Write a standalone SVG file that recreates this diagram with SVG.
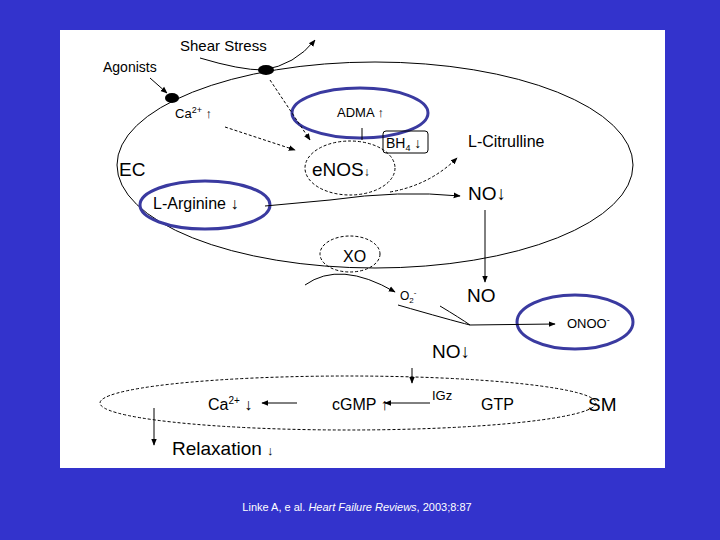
<svg xmlns="http://www.w3.org/2000/svg" width="720" height="540" viewBox="0 0 720 540">
<style>
text{font-family:"Liberation Sans",Arial,sans-serif;fill:#000}
.l{fill:none;stroke:#000;stroke-width:1}
.d{fill:none;stroke:#000;stroke-width:1;stroke-dasharray:3,2}
.b{fill:none;stroke:#3a3aa0;stroke-width:3}
</style>
<defs><marker id="a" viewBox="0 0 10 10" refX="9" refY="5" markerWidth="7" markerHeight="7" orient="auto"><path d="M0,1L10,5L0,9z" fill="#000"/></marker></defs>
<rect width="720" height="540" fill="#3333cc"/>
<rect x="60" y="30" width="605" height="438" fill="#fff"/>
<g id="ec"><ellipse cx="375" cy="165" rx="258" ry="103" class="l"/><text x="119" y="176" font-size="19">EC</text></g>
<g id="sm"><ellipse cx="348" cy="403" rx="248" ry="27" class="d"/><text x="588" y="411" font-size="19">SM</text></g>
<g id="shear"><text x="180" y="51" font-size="15">Shear Stress</text><ellipse cx="266" cy="70" rx="8" ry="5"/></g>
<g id="agonists"><text x="103" y="72" font-size="14">Agonists</text><ellipse cx="172" cy="98" rx="7" ry="5"/></g>
<g id="ca1"><text x="175" y="118" font-size="13">Ca<tspan font-size="9" dy="-5">2+</tspan><tspan dy="5"> ↑</tspan></text></g>
<g id="adma"><ellipse cx="360" cy="113" rx="68" ry="25" class="b"/><text x="337" y="117" font-size="13">ADMA ↑</text></g>
<g id="bh4"><rect x="383" y="131" width="45" height="22" rx="3" class="l"/><text x="386" y="148" font-size="14">BH<tspan font-size="9" dy="3">4</tspan><tspan dy="-3"> ↓</tspan></text></g>
<g id="enos"><ellipse cx="350" cy="168" rx="45" ry="27" class="d"/><text x="312" y="176" font-size="19">eNOS<tspan font-size="12">↓</tspan></text></g>
<g id="citrulline"><text x="468" y="147" font-size="16">L-Citrulline</text></g>
<g id="no1"><text x="468" y="200" font-size="19">NO↓</text></g>
<g id="arginine"><ellipse cx="205" cy="205" rx="65" ry="24" class="b"/><text x="153" y="209" font-size="16">L-Arginine ↓</text></g>
<g id="xo"><ellipse cx="350" cy="254" rx="30" ry="18" class="d"/><text x="343" y="262" font-size="16">XO</text></g>
<g id="o2"><text x="400" y="300" font-size="12">O<tspan font-size="8" dy="3">2</tspan><tspan font-size="8" dy="-8">-</tspan></text></g>
<g id="no2"><text x="467" y="302" font-size="19">NO</text></g>
<g id="onoo"><ellipse cx="575" cy="322" rx="58" ry="27" class="b"/><text x="567" y="328" font-size="13">ONOO<tspan font-size="9" dy="-5">-</tspan></text></g>
<g id="no3"><text x="432" y="358" font-size="19">NO↓</text></g>
<g id="igz"><text x="432" y="400" font-size="13">IGz</text></g>
<g id="ca2"><text x="208" y="410" font-size="16">Ca<tspan font-size="10" dy="-6">2+</tspan><tspan dy="6"> ↓</tspan></text></g>
<g id="cgmp"><text x="332" y="410" font-size="16">cGMP ↑</text></g>
<g id="gtp"><text x="481" y="410" font-size="16">GTP</text></g>
<g id="relax"><text x="172" y="455" font-size="19">Relaxation <tspan font-size="13">↓</tspan></text></g>
<g id="connectors">
<path d="M200,58 Q240,70 263,70 Q295,65 315,40" class="l" marker-end="url(#a)"/>
<path d="M150,78 L167,93" class="l" marker-end="url(#a)"/>
<path d="M225,127 L295,150" class="d" marker-end="url(#a)"/>
<path d="M270,80 L310,140" class="d" marker-end="url(#a)"/>
<path d="M362,128 L362,140" class="l"/>
<path d="M265,206 L330,200 Q400,190 460,196" class="l" marker-end="url(#a)"/>
<path d="M390,192 Q430,185 457,158" class="d" marker-end="url(#a)"/>
<path d="M485,210 L485,282" class="l" marker-end="url(#a)"/>
<path d="M305,285 Q340,260 395,292" class="l" marker-end="url(#a)"/>
<path d="M398,305 Q450,320 470,325 L555,324" class="l" marker-end="url(#a)"/>
<path d="M440,306 Q460,318 470,325" class="l"/>
<path d="M412,368 L412,383" class="l" marker-end="url(#a)"/>
<path d="M430,403 L385,403" class="l" marker-end="url(#a)"/>
<path d="M297,403 L262,403" class="l" marker-end="url(#a)"/>
<path d="M154,408 L154,445" class="l" marker-end="url(#a)"/>
</g>
<text x="357" y="511" font-size="11" text-anchor="middle" style="fill:#fff">Linke A, e al. <tspan font-style="italic">Heart Failure Reviews</tspan>, 2003;8:87</text>
</svg>
